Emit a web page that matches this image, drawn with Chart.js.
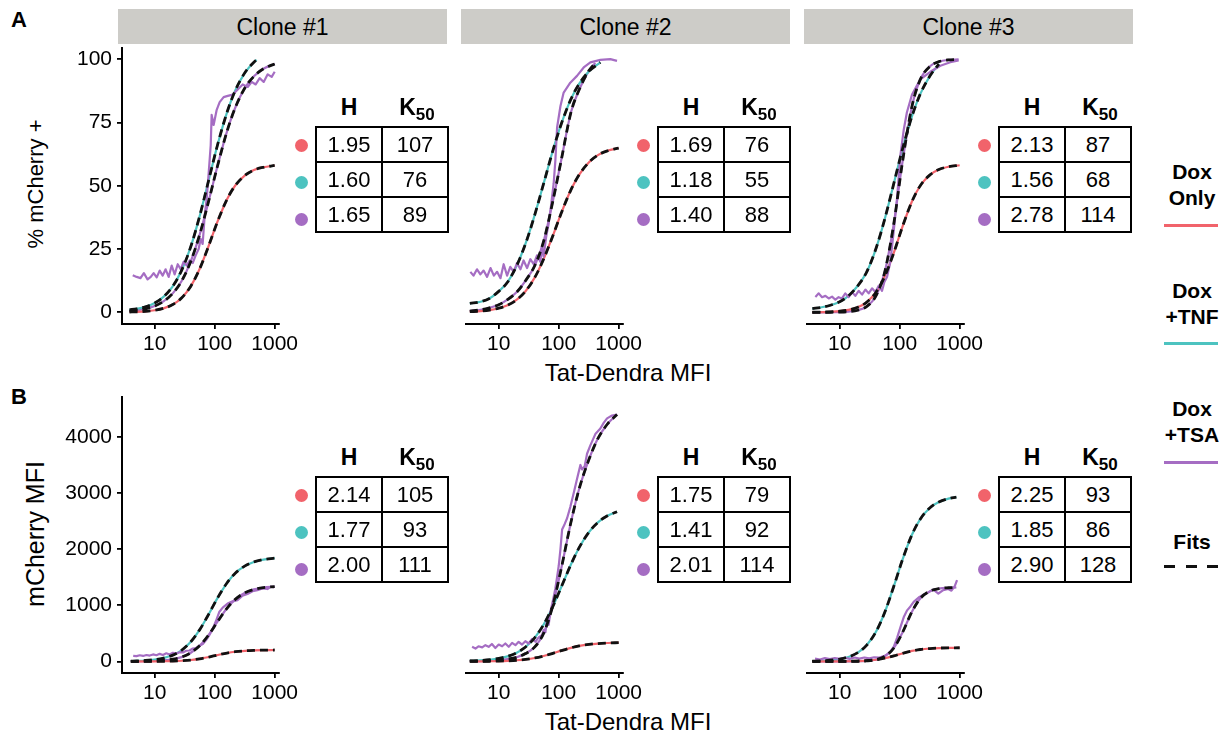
<!DOCTYPE html>
<html><head><meta charset="utf-8">
<script src="https://cdn.jsdelivr.net/npm/chart.js@4.4.1/dist/chart.umd.min.js"></script>
<style>
body{margin:0;background:#fff;width:1224px;height:738px;position:relative;overflow:hidden;font-family:"Liberation Sans",Arial,Helvetica,sans-serif;color:#000}
canvas{position:absolute}
.strip{position:absolute;top:9px;height:35px;width:329px;background:#cdccc8;font-size:23px;line-height:36px;text-align:center}
.lbl{position:absolute;white-space:nowrap}
.tbl{position:absolute;border-collapse:collapse}
.tbl td{border:2px solid #000;width:64px;height:33px;padding:0;text-align:center;font-size:22px;line-height:33px}
.dot{position:absolute;width:13px;height:13px;border-radius:50%}
.hdr{position:absolute;font-weight:bold;font-size:23px;transform:translate(-50%,-50%);white-space:nowrap}
.hdr sub{font-size:17px;vertical-align:-5px}
.rot{position:absolute;transform:translate(-50%,-50%) rotate(-90deg);white-space:nowrap}
.leg{position:absolute;left:1162px;width:60px;text-align:center;font-weight:bold;font-size:21px;line-height:26px}
.legline{position:absolute;left:1164px;width:54px;height:3px}
</style></head><body>
<script>
// ---------------- DATA ----------------
const cloneNames = ["Clone #1", "Clone #2", "Clone #3"];
const conditions = ["Dox Only", "Dox +TNF", "Dox +TSA"];
const xTicks = [10, 100, 1000];
const yTicksA = [0, 25, 50, 75, 100];
const yTicksB = [0, 1000, 2000, 3000, 4000];

// Row A (% mCherry +)
const fitX_A1 = [3.8,5,7,10,14,20,28,40,56,80,110,160,220,320,450,650,1000];
const redFit_A1 = [0.13,0.22,0.42,0.83,1.58,3.08,5.66,10.35,17.1,26.5,35.5,44.6,50.1,54.1,56.2,57.3,58.0];
const tealX_A1 = [3.8,5,7,10,14,20,28,40,56,80,110,160,220,320,450,500];
const tealFit_A1 = [1.0,1.4,2.2,3.7,6.1,10.3,16.5,26.0,37.9,52.5,65.6,78.9,87.6,94.7,98.8,99.7];
const purpleFit_A1 = [0.52,0.81,1.41,2.5,4.3,7.5,12.3,20.2,30.6,44.3,57.3,71.4,80.8,88.7,93.2,96.2,98.1];
const rawX_A1 = [4.3,5.0,5.8,6.6,7.6,8.6,9.6,10.8,12.1,13.6,15.2,17.1,19.2,21.5,24.2,27.1,30.4,34.1,38.3,43,48.2,54,58.4,63,68,73.6,79.4,85.8,89,96,108,121,141,165,200,242,293,355,414,482,562,656,764,891,1000];
const rawY_A1 = [14.7,14.0,13.5,15.5,13.0,14.0,15.5,13.8,16.5,14.5,17.0,14.0,18.5,15.0,19.0,17.0,20.0,18.5,20.5,19.5,22.5,25,29,27,38,45,55,66,78,74,80,83,85,85.5,86,88,90,89,91,90,92.5,91,94,93,95];

const fitX_A2 = [3.3,5,7,10,14,20,28,40,56,80,110,160,220,320,450,650,1000];
const redFit_A2 = [0.26,0.51,0.9,1.63,2.83,4.99,8.33,13.8,21.0,30.3,39.1,48.4,54.4,59.3,62.1,63.8,64.9];
const tealX_A2 = [3.3,5,7,10,14,20,28,40,56,80,110,160,220,320,495];
const tealFit_A2 = [3.5,4.2,5.5,8.3,11.9,18.5,27.1,38.6,50.8,63.9,74.3,84.2,90.3,95.2,98.7];
const purpleX_A2 = [3.3,5,7,10,14,20,28,40,56,80,110,160,220,320,408];
const purpleFit_A2 = [0.5,1.0,1.8,3.0,5.0,8.0,12.5,18.5,28,44,60,79,88,95.5,98.5];
const rawX_A2 = [3.37,3.8,4.35,4.95,5.6,6.4,7.3,8.3,9.4,10.7,12.1,13.8,15.6,17.8,20.2,23,26,29.7,33.7,38.3,43.5,49.5,52.7,56,62,68,74.5,82.5,88,94,107,121,156,202,261,337,495,726,938];
const rawY_A2 = [16,14.5,17,15,16.5,14,17.5,14.5,16,13.5,19,14.5,18,16,19.5,17,20.5,17.5,21,19,22.5,20,26,22,30,35,42,51,60,73,81.5,86.8,90.7,93.4,96.7,98.7,99.7,100,99.3];

const fitX_A3 = [3.5,5,7,10,14,20,28,40,56,80,110,160,220,320,450,650,1000];
const redFit_A3 = [0.05,0.1,0.22,0.47,0.95,2.0,3.95,7.85,14.1,23.6,33.5,43.8,50.0,54.3,56.4,57.5,58.1];
const tealX_A3 = [3.5,5,7,10,14,20,28,40,56,80,110,160,220,320,450];
const tealFit_A3 = [1.5,2.0,2.8,4.2,6.5,10.5,15.8,25.0,36.6,51.0,64.0,77.4,86.2,93.4,98.0];
const purpleX_A3 = [3.5,5,7,10,14,20,28,40,56,80,110,160,220,320,450,650,960];
const purpleFit_A3 = [0,0.01,0.04,0.1,0.29,0.84,2.3,6.4,15.7,35.2,58.6,81.3,91.9,97.2,99.0,99.7,99.9];
const rawX_A3 = [3.93,4.47,5.08,5.77,6.56,7.45,8.47,9.6,10.9,12.4,14.1,16.1,18.2,20.7,23.6,26.8,30.4,34.6,39.3,44.7,50.8,55.5,61.5,69.9,79.4,90.3,102.6,116.6,132,160.5,221,324,476,698,961];
const rawY_A3 = [6.1,7.5,6.0,6.5,5.5,6.2,5.0,6.0,5.5,7.5,6.0,8.0,6.5,8.5,7.0,9.0,7.5,9.5,8.0,10.5,8.5,12,14,20,32,45,62,72,79,86,92,95,97.4,98.8,99.5];

// Row B (mCherry MFI)
const fitX_B1 = [4,5,7,10,14,20,28,40,56,80,110,160,220,320,450,650,1000];
const redFit_B1 = [0.2,0.34,0.7,1.5,3.0,6.4,12.6,25.3,46,78.5,112.9,150,173,189.3,197,201.3,203.5];
const tealFit_B1 = [6,9,17,33,60,113,199,351,562,848,1119,1397,1572,1703,1773,1815,1840];
const purpleFit_B1 = [1.4,2.2,4.5,9.4,18.9,39,77,154,279,479,699,947,1106,1225,1283,1316,1333];
const rawX_B1 = [4.38,4.97,5.63,6.41,7.28,8.26,9.38,10.7,12.1,13.7,15.6,17.7,20.1,22.9,26,29.5,33.5,38,43.2,49.1,55.7,63.3,71.8,81.6,92.7,105,119,136,164,199,240,291,352,427,516,625,756,859,975];
const rawY_B1 = [100,95,110,98,115,105,125,110,135,115,145,125,155,140,165,160,190,195,230,240,280,310,380,470,580,720,880,960,1030,1070,1090,1170,1200,1250,1270,1300,1290,1330,1320];

const fitX_B2 = [3.3,5,7,10,14,20,28,40,56,80,110,160,220,320,450,650,1000];
const redFit_B2 = [0.95,2.0,3.5,6.5,11.5,20.9,35.9,61.3,96.5,144.6,191.7,242.6,276.4,303.7,319,328.7,334.6];
const tealX_B2 = [3.3,5,7,10,14,20,28,40,56,80,110,160,220,320,450,650,938];
const tealFit_B2 = [9,18,30.5,53.6,90.5,156,257,425,656,981,1321,1727,2031,2305,2477,2595,2666];
const purpleFit_B2 = [4,7,12,22,40,75,140,260,500,1000,1650,2480,3080,3600,3970,4230,4400];
const rawX_B2 = [3.6,4.1,4.6,5.3,6.0,6.8,7.7,8.8,10,11.4,12.9,14.7,16.7,19,21.5,24.5,27.8,31.6,36,40.8,46.4,52.7,56,60,64,68,72.6,77,82.5,88,94,100,107,114,126,138,156,178,202,230,245,271,297,337,408,495,562,640,774,938];
const rawY_B2 = [260,230,270,250,290,260,310,240,300,270,320,260,330,290,350,300,360,320,400,350,430,470,560,520,760,650,880,1000,1150,1300,1500,1700,2000,2350,2450,2550,2750,3000,3250,3500,3420,3480,3700,3850,4050,4150,4250,4330,4380,4400];

const fitX_B3 = [3.5,5,7,10,14,20,28,40,56,80,110,160,220,320,450,650,1000];
const redFit_B3 = [0.15,0.33,0.7,1.5,3.3,7.1,14.7,30.6,57.3,99,142.5,187,212.8,230,237.8,241.8,243.8];
const tealX_B3 = [3.5,5,7,10,14,20,28,40,56,80,110,160,220,320,450,650,881];
const tealFit_B3 = [5.5,11,21,42,80,156,287,524,867,1343,1797,2257,2535,2739,2842,2901,2927];
const purpleFit_B3 = [0,0,0.12,0.4,1.1,3.5,10,31,87.5,240,503,886,1122,1253,1297,1313,1317];
const rawX_B3 = [3.88,4.69,5.66,6.85,8.28,10,12.1,14.6,17.7,21.3,25.8,31.1,37.6,45.5,55,62.3,70.6,80.1,91,103,117,133,151,171,207,249,301,365,441,532,643,729,828,904];
const rawY_B3 = [50,35,60,40,60,45,65,45,70,50,70,55,75,70,95,130,180,270,430,610,790,910,980,1060,1140,1190,1230,1280,1210,1270,1290,1260,1340,1450];

// Tables (Hill coefficient H, K50)
const H_A = [["1.95","1.60","1.65"],["1.69","1.18","1.40"],["2.13","1.56","2.78"]];
const K50_A = [[107,76,89],[76,55,88],[87,68,114]];
const H_B = [["2.14","1.77","2.00"],["1.75","1.41","2.01"],["2.25","1.85","2.90"]];
const K50_B = [[105,93,111],[79,92,114],[93,86,128]];

// ---------------- STYLE / LAYOUT ----------------
const RED = '#F1636B', TEAL = '#4DC3C0', PURPLE = '#A56DC3';
const FONT = '"Liberation Sans", Arial, Helvetica, sans-serif';
const X_MIN = 2.85, X_MAX = 1180;
const colAxisLeft = [122, 466, 807];
const PLOT_W = 157;
const Y_AXIS_W = 70, X_AXIS_H = 40, PAD_TOP = 22, PAD_RIGHT = 32;
const rows = [
  {plotTop: 48, plotH: 276, ymin: -4.6, ymax: 104.4, yTicks: yTicksA},
  {plotTop: 397, plotH: 276, ymin: -206, ymax: 4711, yTicks: yTicksB}
];

function pts(xs, ys) { return xs.map((x, i) => ({x: x, y: ys[i]})); }

const panelData = [
  [
    {red: pts(fitX_A1, redFit_A1), teal: pts(tealX_A1, tealFit_A1), purple: pts(fitX_A1, purpleFit_A1), raw: pts(rawX_A1, rawY_A1)},
    {red: pts(fitX_A2, redFit_A2), teal: pts(tealX_A2, tealFit_A2), purple: pts(purpleX_A2, purpleFit_A2), raw: pts(rawX_A2, rawY_A2)},
    {red: pts(fitX_A3, redFit_A3), teal: pts(tealX_A3, tealFit_A3), purple: pts(purpleX_A3, purpleFit_A3), raw: pts(rawX_A3, rawY_A3)}
  ],
  [
    {red: pts(fitX_B1, redFit_B1), teal: pts(fitX_B1, tealFit_B1), purple: pts(fitX_B1, purpleFit_B1), raw: pts(rawX_B1, rawY_B1)},
    {red: pts(fitX_B2, redFit_B2), teal: pts(tealX_B2, tealFit_B2), purple: pts(tealX_B2, purpleFit_B2), raw: pts(rawX_B2, rawY_B2)},
    {red: pts(fitX_B3, redFit_B3), teal: pts(tealX_B3, tealFit_B3), purple: pts(tealX_B3, purpleFit_B3), raw: pts(rawX_B3, rawY_B3)}
  ]
];

function solid(data, color) {
  return {data: data, order: 3, borderColor: color, borderWidth: 2.2, pointRadius: 0, fill: false, cubicInterpolationMode: 'monotone'};
}
function rawLine(data) {
  return {data: data, order: 2, borderColor: PURPLE, borderWidth: 2.2, pointRadius: 0, fill: false, tension: 0, borderJoinStyle: 'round'};
}
function dashed(data) {
  return {data: data, order: 1, borderColor: '#111', borderWidth: 2.8, borderDash: [8, 5], borderCapStyle: 'butt', pointRadius: 0, fill: false, cubicInterpolationMode: 'monotone'};
}

function makeChart(r, c) {
  const row = rows[r];
  const d = panelData[r][c];
  const cv = document.createElement('canvas');
  const w = Y_AXIS_W + PLOT_W + PAD_RIGHT, h = PAD_TOP + row.plotH + X_AXIS_H;
  cv.width = w; cv.height = h;
  cv.style.left = (colAxisLeft[c] - Y_AXIS_W) + 'px';
  cv.style.top = (row.plotTop - PAD_TOP) + 'px';
  cv.style.width = w + 'px'; cv.style.height = h + 'px';
  document.body.appendChild(cv);
  const showY = c === 0;
  new Chart(cv, {
    type: 'line',
    data: {datasets: [
      solid(d.red, RED), solid(d.teal, TEAL), solid(d.purple, PURPLE), rawLine(d.raw),
      dashed(d.red), dashed(d.teal), dashed(d.purple)
    ]},
    options: {
      responsive: false, animation: false, devicePixelRatio: 1,
      layout: {autoPadding: false, padding: {top: PAD_TOP, right: PAD_RIGHT, left: 0, bottom: 0}},
      plugins: {legend: {display: false}, tooltip: {enabled: false}},
      scales: {
        x: {
          type: 'logarithmic', min: X_MIN, max: X_MAX,
          afterBuildTicks: ax => { ax.ticks = xTicks.map(v => ({value: v})); },
          afterFit: s => { s.height = X_AXIS_H; },
          ticks: {callback: v => String(v), color: '#000', font: {family: FONT, size: 21}, padding: 3, maxRotation: 0, autoSkip: false},
          grid: {display: true, drawOnChartArea: false, drawTicks: true, tickLength: 5, color: '#000', lineWidth: 1.8},
          border: {display: true, color: '#000', width: 2}
        },
        y: {
          type: 'linear', min: row.ymin, max: row.ymax,
          afterBuildTicks: ax => { ax.ticks = row.yTicks.map(v => ({value: v})); },
          afterFit: s => { s.width = Y_AXIS_W; },
          ticks: {display: showY, callback: v => String(v), color: '#000', font: {family: FONT, size: 21}, padding: 5},
          grid: {display: showY, drawOnChartArea: false, drawTicks: true, tickLength: 5, color: '#000', lineWidth: 1.8},
          border: {display: showY, color: '#000', width: 2}
        }
      }
    }
  });
}

function addEl(tag, cls, css, html) {
  const e = document.createElement(tag);
  if (cls) e.className = cls;
  Object.assign(e.style, css);
  if (html !== undefined) e.innerHTML = html;
  document.body.appendChild(e);
  return e;
}

const stripLeft = [118, 461, 804];
cloneNames.forEach((n, i) => addEl('div', 'strip', {left: stripLeft[i] + 'px'}, n));

addEl('div', 'lbl', {left: '11px', top: '7px', fontWeight: 'bold', fontSize: '22px'}, 'A');
addEl('div', 'lbl', {left: '11px', top: '384px', fontWeight: 'bold', fontSize: '22px'}, 'B');

addEl('div', 'rot', {left: '36px', top: '184px', fontSize: '22px'}, '% mCherry +');
addEl('div', 'rot', {left: '35px', top: '534px', fontSize: '25px'}, 'mCherry MFI');
addEl('div', 'lbl', {left: '628px', top: '373px', fontSize: '24px', transform: 'translate(-50%,-50%)'}, 'Tat-Dendra MFI');
addEl('div', 'lbl', {left: '628px', top: '722px', fontSize: '24px', transform: 'translate(-50%,-50%)'}, 'Tat-Dendra MFI');

for (let r = 0; r < 2; r++) for (let c = 0; c < 3; c++) makeChart(r, c);

const tableTop = [126, 476];
const tableLeft = [315, 657, 998];
const dotColors = [RED, TEAL, PURPLE];
[[H_A, K50_A], [H_B, K50_B]].forEach((pair, r) => {
  for (let c = 0; c < 3; c++) {
    const L = tableLeft[c], T = tableTop[r];
    addEl('div', 'hdr', {left: (L + 34) + 'px', top: (T - 19) + 'px'}, 'H');
    addEl('div', 'hdr', {left: (L + 102) + 'px', top: (T - 17) + 'px'}, 'K<sub>50</sub>');
    let html = '';
    for (let i = 0; i < 3; i++) html += '<tr><td>' + pair[0][c][i] + '</td><td>' + pair[1][c][i] + '</td></tr>';
    addEl('table', 'tbl', {left: L + 'px', top: T + 'px'}, html);
    for (let i = 0; i < 3; i++) {
      addEl('div', 'dot', {left: (L - 20) + 'px', top: (T + 12.5 + i * 37.3) + 'px', background: dotColors[i]});
    }
  }
});

const legendItems = [
  {l1: 'Dox', l2: 'Only', y: 159, lineY: 224, color: RED},
  {l1: 'Dox', l2: '+TNF', y: 278, lineY: 342, color: TEAL},
  {l1: 'Dox', l2: '+TSA', y: 396, lineY: 461, color: PURPLE}
];
legendItems.forEach(it => {
  addEl('div', 'leg', {top: it.y + 'px'}, it.l1 + '<br>' + it.l2);
  addEl('div', 'legline', {top: it.lineY + 'px', background: it.color});
});
addEl('div', 'leg', {top: '529px'}, 'Fits');
[1164, 1186, 1207].forEach(x => addEl('div', 'legline', {left: x + 'px', top: '565px', width: '11px', background: '#111'}));
</script>
</body></html>
